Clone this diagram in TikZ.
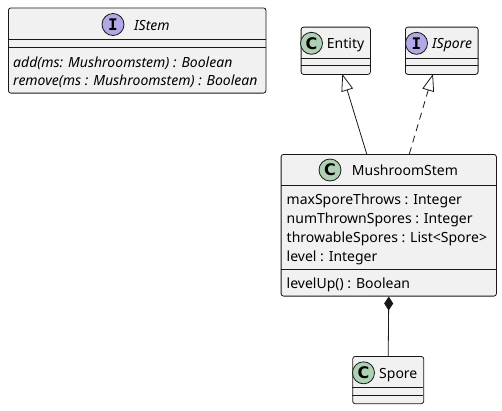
\documentclass[tikz,border=0pt]{standalone}
\usepackage{fontspec}
\setmainfont{Noto Sans}
\newfontfamily\markfont{DejaVu Sans Mono}
\newfontfamily\cmarkfont{DejaVu Sans}
\usetikzlibrary{arrows.meta}
\definecolor{boxfill}{HTML}{F1F1F1}
\definecolor{boxline}{HTML}{181818}
\definecolor{cgreen}{HTML}{ADD1B2}
\definecolor{ipurple}{HTML}{B4A7E5}
\begin{document}
\begin{tikzpicture}[x=1pt,y=-1pt,
  classbox/.style={draw=boxline, fill=boxfill, line width=0.8pt, rounded corners=2.5pt, anchor=north west, inner sep=0pt},
  sepline/.style={draw=boxline, line width=0.8pt},
  txt/.style={anchor=base west, inner sep=0pt, font=\fontsize{14}{16}\selectfont},
  itxt/.style={anchor=base west, inner sep=0pt, font=\fontsize{14}{16}\selectfont\itshape},
  cmark/.style={circle, draw=boxline, fill=cgreen, line width=0.8pt, minimum size=22pt, inner sep=0pt, font=\fontsize{16}{16}\cmarkfont\bfseries},
  imark/.style={cmark, fill=ipurple, font=\fontsize{16}{16}\markfont\bfseries},
  conn/.style={draw=boxline, line width=0.8pt}
]
\useasboundingbox (0,0) rectangle (502,410);

% IStem
\node[classbox, minimum width=257.5pt, minimum height=85.2pt] (istem) at (8,7.5) {};
\draw[sepline] (8,39.5) -- (265.5,39.5);
\draw[sepline] (8,47.3) -- (265.5,47.3);
\node[imark] (istemmark) at (113,24.5) {I};
\node[itxt] (istemname) at (134,30) {IStem};
\node[itxt] (istemm1) at (13,67) {add(ms: Mushroomstem) : Boolean};
\node[itxt] (istemm2) at (13,85) {remove(ms : Mushroomstem) : Boolean};

% Entity
\node[classbox, minimum width=69.3pt, minimum height=47.3pt] (entity) at (300.7,26.7) {};
\draw[sepline] (300.7,58.3) -- (370,58.3);
\draw[sepline] (300.7,65.7) -- (370,65.7);
\node[cmark] (entitymark) at (311.5,43.3) {C};
\node[txt] (entityname) at (326.7,48) {Entity};

% ISpore
\node[classbox, minimum width=72.7pt, minimum height=47.3pt] (ispore) at (405,26.7) {};
\draw[sepline] (405,58.3) -- (477.7,58.3);
\draw[sepline] (405,65.7) -- (477.7,65.7);
\node[imark] (isporemark) at (416.5,43.3) {I};
\node[itxt] (isporename) at (432,48) {ISpore};

% MushroomStem
\node[classbox, minimum width=215.3pt, minimum height=141.7pt] (ms) at (280.7,154) {};
\draw[sepline] (280.7,185) -- (496,185);
\draw[sepline] (280.7,269.3) -- (496,269.3);
\node[cmark] (msmark) at (330,170) {C};
\node[txt] (msname) at (351.7,175) {MushroomStem};
\node[txt] (msa1) at (286.5,204) {maxSporeThrows : Integer};
\node[txt] (msa2) at (286.5,223) {numThrownSpores : Integer};
\node[txt] (msa3) at (286.5,242) {throwableSpores : List<Spore>};
\node[txt] (msa4) at (286.5,261) {level : Integer};
\node[txt] (msm1) at (286.5,288) {levelUp() : Boolean};

% Spore
\node[classbox, minimum width=71pt, minimum height=47.3pt] (spore) at (352.3,356) {};
\draw[sepline] (352.3,387.6) -- (423.3,387.6);
\draw[sepline] (352.3,395) -- (423.3,395);
\node[cmark] (sporemark) at (363.5,372.8) {C};
\node[txt] (sporename) at (379,378) {Spore};

% connectors
\coordinate (msE) at (366.7,154);
\coordinate (entB) at (342.3,74);
\coordinate (msI) at (409.3,154);
\coordinate (ispB) at (433,74);
\draw[conn, -{Triangle[open, length=17pt, width=12pt]}] (msE) -- (entB);
\draw[conn, dash pattern=on 7pt off 5pt, -{Triangle[open, length=17pt, width=12pt]}] (msI) -- (ispB);
\draw[conn, {Diamond[length=14pt, width=9pt]}-] (ms.south) -- (spore.north);
\end{tikzpicture}
\end{document}
